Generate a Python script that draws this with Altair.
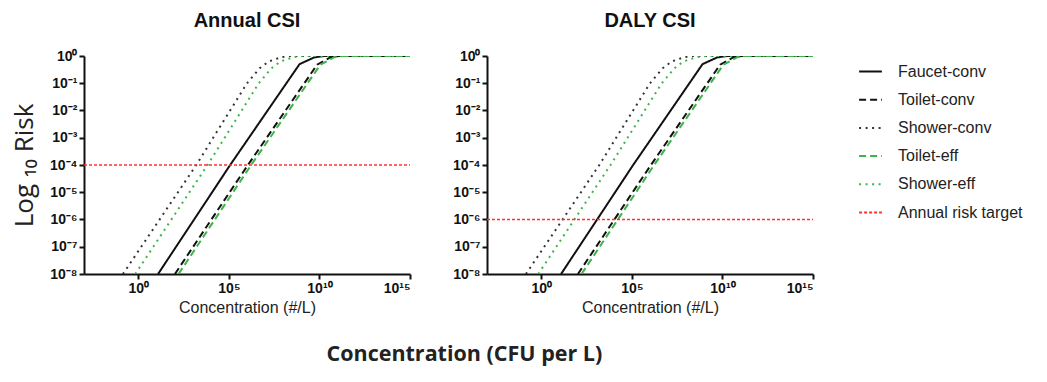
import math
import altair as alt
import pandas as pd

# ---------------- data (log10 values) ----------------
series_names = ["Faucet-conv", "Toilet-conv", "Shower-conv", "Toilet-eff", "Shower-eff", "Annual risk target"]
series_colors = ["#111111", "#111111", "#333333", "#3cb44b", "#3cb44b", "#ff3030"]
series_dashes = [[1, 0], [7, 4], [2, 4.5], [7, 4], [2, 4.5], [3, 2]]

faucet_conv_logc = [1.09, 5.07, 8.9, 9.72, 10.25, 15]
faucet_conv_logr = [-8, -4, -0.3, -0.05, 0, 0]
toilet_conv_logc = [2.02, 6.05, 9.87, 10.6, 11.1, 15]
toilet_conv_logr = [-8, -4, -0.32, -0.05, 0, 0]
shower_conv_logc = [-0.85, 3.2, 6.0, 6.7, 7.2, 7.9, 8.4, 15]
shower_conv_logr = [-8, -4, -1.0, -0.45, -0.2, -0.04, 0, 0]
toilet_eff_logc = [2.22, 6.23, 10.05, 10.8, 11.3, 15]
toilet_eff_logr = [-8, -4, -0.32, -0.05, 0, 0]
shower_eff_logc = [-0.17, 3.82, 6.65, 7.35, 7.85, 8.6, 9.1, 15]
shower_eff_logr = [-8, -4, -1.0, -0.45, -0.2, -0.04, 0, 0]

panel_titles = ["Annual CSI", "DALY CSI"]
risk_targets = [1e-4, 1e-6]

x_domain = [1e-3, 1e15]
y_domain = [1e-8, 1e0]
x_ticks = [1e0, 1e5, 1e10, 1e15]
x_tick_labels = ["10⁰", "10⁵", "10¹⁰", "10¹⁵"]
y_ticks = [1e0, 1e-1, 1e-2, 1e-3, 1e-4, 1e-5, 1e-6, 1e-7, 1e-8]
y_tick_labels = ["10⁰", "10⁻¹", "10⁻²", "10⁻³", "10⁻⁴", "10⁻⁵", "10⁻⁶", "10⁻⁷", "10⁻⁸"]

curves = [
    ("Faucet-conv", faucet_conv_logc, faucet_conv_logr),
    ("Toilet-conv", toilet_conv_logc, toilet_conv_logr),
    ("Shower-conv", shower_conv_logc, shower_conv_logr),
    ("Toilet-eff", toilet_eff_logc, toilet_eff_logr),
    ("Shower-eff", shower_eff_logc, shower_eff_logr),
]

rows = []
for name, lc, lr in curves:
    for i, (a, b) in enumerate(zip(lc, lr)):
        rows.append({"series": name, "idx": i, "conc": 10 ** a, "risk": 10 ** b})
curve_df = pd.DataFrame(rows)


def label_expr(ticks, labels):
    parts = []
    for t, lab in zip(ticks, labels):
        e = int(round(math.log10(t)))
        parts.append(f"round(log(datum.value)/LN10) == {e} ? '{lab}'")
    return " : ".join(parts) + " : ''"


legend = alt.Legend(
    title=None, orient="none", legendX=774, legendY=3, padding=0,
    labelFont="Liberation Sans", labelFontSize=16, labelColor="#222222",
    symbolType="stroke", symbolSize=520, symbolStrokeWidth=2,
    rowPadding=7.2, labelOffset=15,
)
color_enc = alt.Color("series:N", scale=alt.Scale(domain=series_names, range=series_colors), legend=legend)
dash_enc = alt.StrokeDash("series:N", scale=alt.Scale(domain=series_names, range=series_dashes), legend=legend)


def panel(title, target, first):
    x_enc = alt.X(
        "conc:Q",
        scale=alt.Scale(type="log", domain=x_domain),
        axis=alt.Axis(values=x_ticks, labelExpr=label_expr(x_ticks, x_tick_labels),
                      title="Concentration (#/L)", titlePadding=4),
    )
    y_axis = alt.Axis(values=y_ticks, labelExpr=label_expr(y_ticks, y_tick_labels),
                      title="Log ₁₀ Risk" if first else None,
                      titleFont="Open Sans", titleFontSize=26, titleColor="#222222",
                      titlePadding=12)
    y_enc = alt.Y("risk:Q", scale=alt.Scale(type="log", domain=y_domain), axis=y_axis)
    target_df = pd.DataFrame({"series": ["Annual risk target"] * 2, "idx": [0, 1],
                              "conc": x_domain, "risk": [target, target]})
    lines = alt.Chart(curve_df).mark_line(strokeWidth=2, clip=True).encode(
        x=x_enc, y=y_enc, color=color_enc, strokeDash=dash_enc, order="idx:Q")
    tline = alt.Chart(target_df).mark_line(strokeWidth=1.5, clip=True).encode(
        x=x_enc, y=y_enc, color=color_enc, strokeDash=dash_enc, order="idx:Q")
    return alt.layer(lines, tline).properties(
        width=326, height=218,
        title=alt.TitleParams(title, font="Liberation Sans", fontSize=20, fontWeight="bold",
                              color="#111111", anchor="middle", frame="group", offset=18),
    )


left = panel(panel_titles[0], risk_targets[0], True)
right = panel(panel_titles[1], risk_targets[1], False)

chart = alt.hconcat(left, right, spacing=41).properties(
    padding={"left": 3, "top": 3, "right": 0, "bottom": 0},
    title=alt.TitleParams("Concentration (CFU per L)", orient="bottom", anchor="start",
                          dx=315, offset=29, font="Open Sans", fontSize=21.5,
                          fontWeight="bold", color="#222222"),
).configure_view(stroke=None).configure_axis(
    grid=False, domainColor="#111111", domainWidth=2, tickColor="#111111", tickWidth=2,
    tickSize=5, labelFont="Liberation Sans", labelFontWeight="bold", labelFontSize=14,
    labelColor="#111111", titleFont="Liberation Sans", titleFontSize=16,
    titleFontWeight="normal", titleColor="#222222",
)

chart.save("out.html", embed_options={"renderer": "svg", "actions": False})
